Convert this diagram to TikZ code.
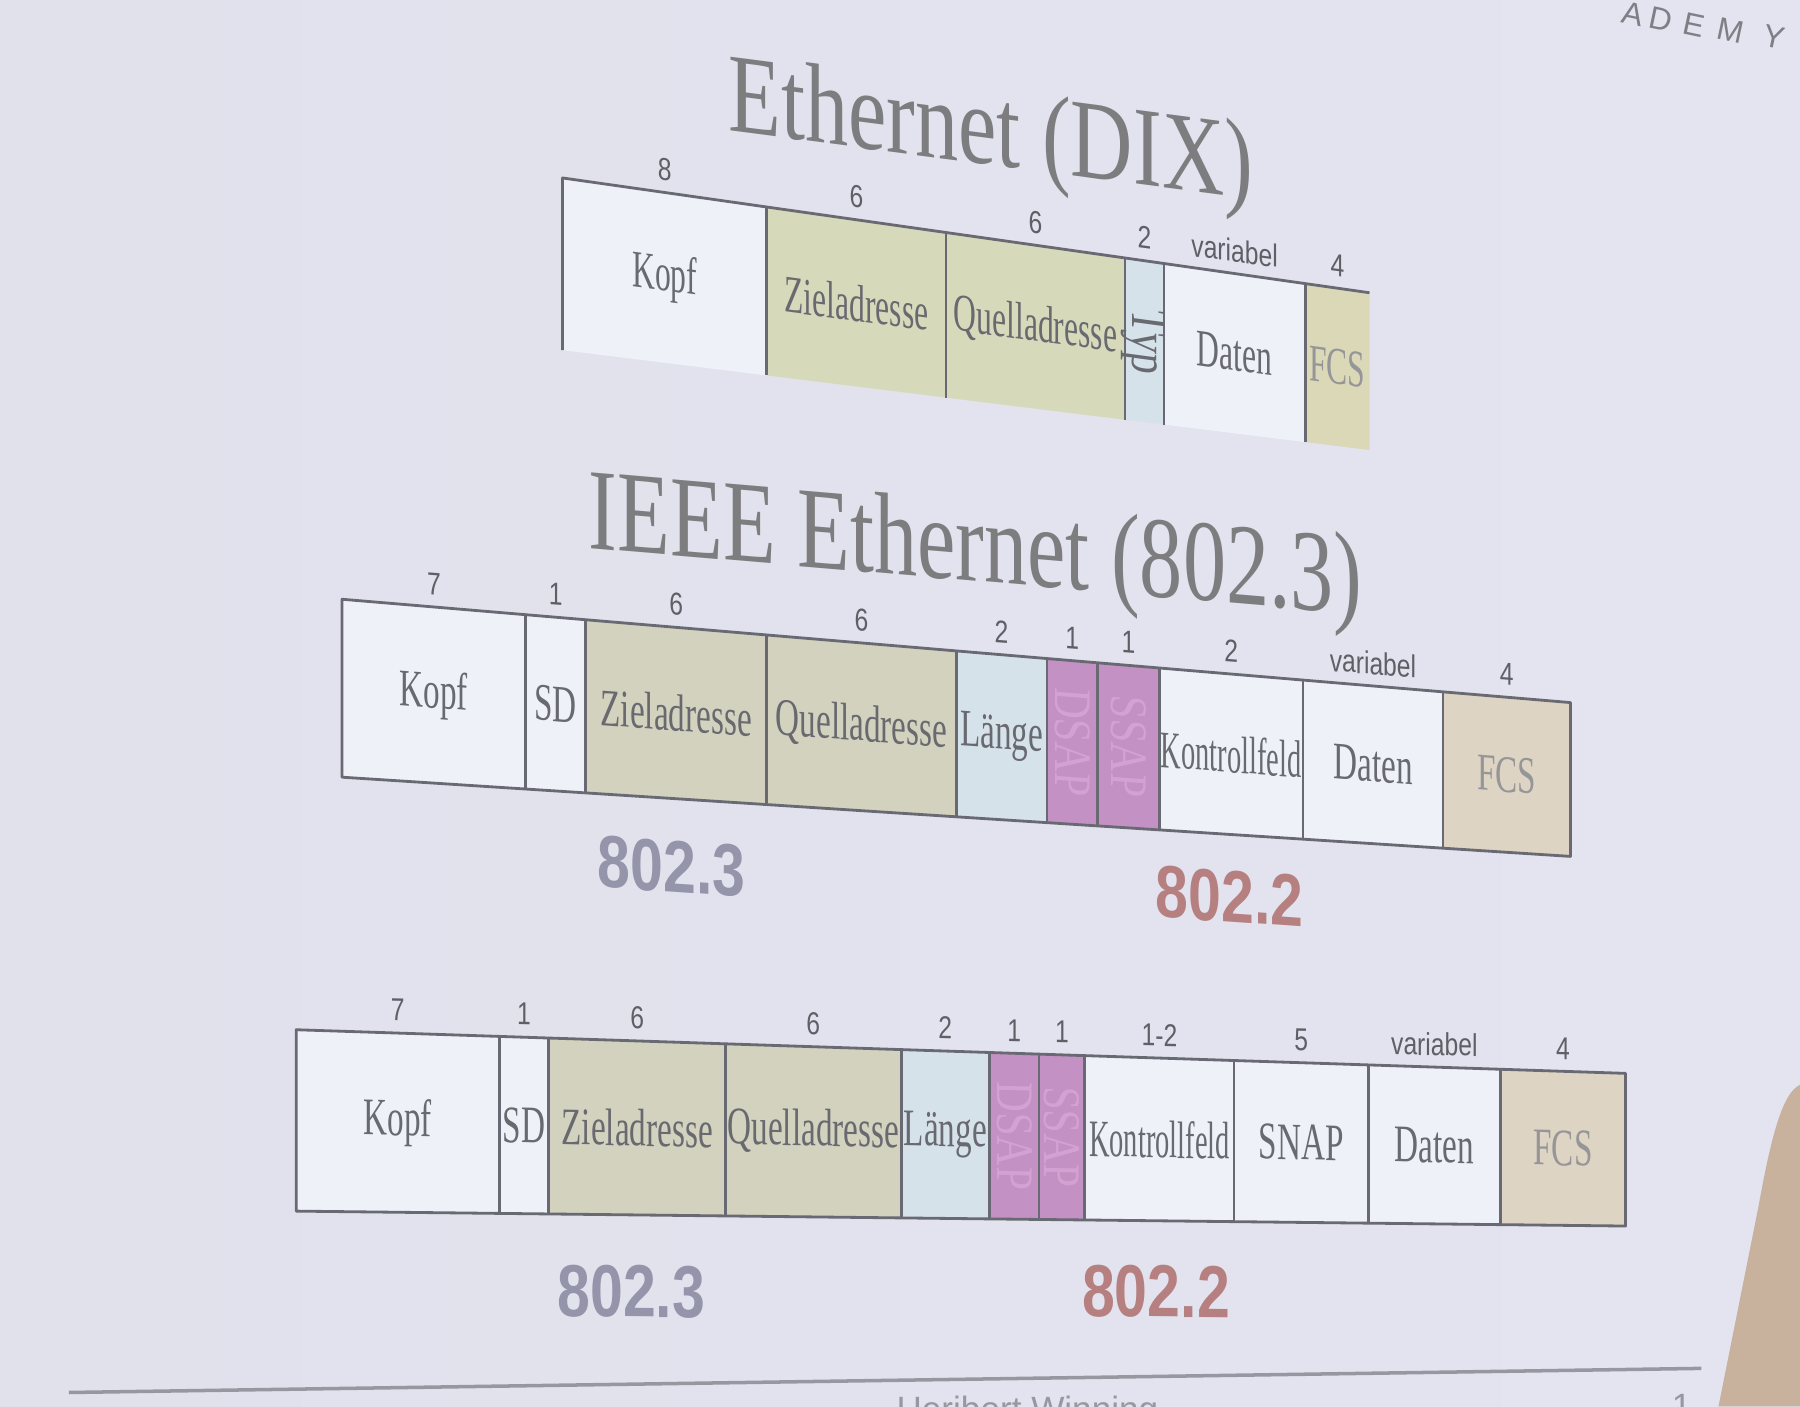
\documentclass[tikz,border=0pt]{standalone}
\usepackage{fontspec}
\usepackage{graphicx}
\setmainfont{Liberation Serif}
\newfontfamily\cellfont[FakeStretch=0.63]{Liberation Serif}
\newfontfamily\cellfontr[FakeStretch=0.6]{Liberation Serif}
\newfontfamily\cellfontn[FakeStretch=0.54]{Liberation Serif}
\newfontfamily\cellfontv[FakeStretch=0.8]{Liberation Serif}
\newfontfamily\numfont[FakeStretch=0.78]{Liberation Sans}
\newfontfamily\bigsans[FakeStretch=0.8]{Liberation Sans}
\newfontfamily\plainsans{Liberation Sans}
\newlength\pxu \setlength\pxu{0.1148mm}
\definecolor{bgL}{RGB}{225,225,236}
\definecolor{bgM}{RGB}{220,231,241}
\definecolor{bgR}{RGB}{227,228,240}
\definecolor{cellwhite}{RGB}{238,242,248}
\definecolor{addrA}{RGB}{214,218,186}
\definecolor{addrB}{RGB}{210,210,190}
\definecolor{typc}{RGB}{214,226,234}
\definecolor{sapc}{RGB}{196,145,196}
\definecolor{fcsA}{RGB}{218,216,182}
\definecolor{fcsB}{RGB}{222,212,196}
\definecolor{linecol}{RGB}{105,105,115}
\definecolor{labcol}{RGB}{105,105,112}
\definecolor{fcstext}{RGB}{150,150,152}
\definecolor{saptext}{RGB}{212,162,210}
\definecolor{numcol}{RGB}{95,95,102}
\definecolor{titlecol}{RGB}{125,125,128}
\definecolor{ieeeA}{RGB}{148,148,170}
\definecolor{ieeeB}{RGB}{182,128,128}
\definecolor{footcol}{RGB}{150,152,160}
\definecolor{skin}{RGB}{200,178,158}
\newcommand\rowgeom[6]{\def\rXa{#1}\def\rXb{#2}\def\rTa{#3}\def\rTb{#4}\def\rBa{#5}\def\rBb{#6}}
\newcommand\topat[2]{\pgfmathsetmacro#1{\rTa+((#2-\rXa)/(\rXb-\rXa))*(\rTb-\rTa)}}
\newcommand\botat[2]{\pgfmathsetmacro#1{\rBa+((#2-\rXa)/(\rXb-\rXa))*(\rBb-\rBa)}}
\newcommand\fcell[7]{%
 \topat\qTL{#2}\topat\qTR{#3}\botat\qBL{#2}\botat\qBR{#3}%
 \pgfmathsetmacro\qXM{(#2+#3)/2}%
 \pgfmathsetmacro\qYM{(\qTL+\qTR+\qBL+\qBR)/4}%
 \pgfmathsetmacro\qYN{(\qTL+\qTR)/2-20}%
 \fill[#4] (#2,\qTL) -- (#3,\qTR) -- (#3,\qBR) -- (#2,\qBL) -- cycle;
 \node[lab,#7] (#1) at (\qXM,\qYM) {#6};
 \node[num] (#1n) at (\qXM,\qYN) {#5};}
\newcommand\sepat[1]{\topat\qT{#1}\botat\qB{#1}\draw[frame] (#1,\qT) -- (#1,\qB);}
\def\rowfont{\cellfont}
\tikzset{
 lab/.style={font=\rowfont\fontsize{15}{15}\selectfont, text=labcol, inner sep=0pt, yslant=\Sl},
 narrowlab/.style={font=\cellfontn\fontsize{15}{15}\selectfont},
 vert/.style={font=\cellfontv\fontsize{15}{15}\selectfont, rotate=-90},
 fcslab/.style={text=fcstext},
 saplab/.style={vert, text=saptext},
 num/.style={font=\numfont\fontsize{9}{9}\selectfont, text=numcol, inner sep=0pt, yslant=\Sl},
 frame/.style={draw=linecol, line width=0.8pt, line join=round},
 titlestyle/.style={text=titlecol, inner sep=0pt},
 stdlab/.style={font=\bigsans\bfseries\fontsize{21}{21}\selectfont, inner sep=0pt},
 academy/.style={font=\plainsans\fontsize{9}{9}\selectfont, text=numcol!80, rotate=-12, inner sep=0pt},
}
\begin{document}
\begin{tikzpicture}[x=0.1148mm,y=-0.1148mm]
\useasboundingbox (0,0) rectangle (1568,1225);
\shade[left color=bgL, middle color=bgM, right color=bgR] (0,0) rectangle (1568,1225);

% ---------- Ethernet (DIX)
\node[titlestyle, yslant=-0.13] (t1) at (863,120)
  {\resizebox{457\pxu}{\height}{\fontsize{32}{32}\selectfont Ethernet (DIX)}};
\def\Sl{-0.135}
\def\rowfont{\cellfontr}
\rowgeom{490}{1193}{155}{255}{305}{392}
\fcell{aK}{490}{668}{cellwhite}{8}{Kopf}{}
\fcell{aZ}{668}{824}{addrA}{6}{Zieladresse}{}
\fcell{aQ}{824}{980}{addrA}{6}{Quelladresse}{}
\fcell{aT}{980}{1014}{typc}{2}{Typ}{vert}
\fcell{aD}{1014}{1137}{cellwhite}{variabel}{Daten}{}
\fcell{aF}{1137}{1193}{fcsA}{4}{FCS}{fcslab}
\draw[frame] (490,305) -- (490,155) -- (1193,255);
\sepat{668}\sepat{824}\sepat{980}\sepat{1014}\sepat{1137}

% ---------- IEEE Ethernet (802.3)
\node[titlestyle, yslant=-0.085] (t2) at (850,482)
  {\resizebox{674\pxu}{\height}{\fontsize{33}{33}\selectfont IEEE Ethernet (802.3)}};
\def\Sl{-0.075}
\def\rowfont{\cellfont}
\rowgeom{298}{1368}{522}{612}{677}{746}
\fcell{bK}{298}{458}{cellwhite}{7}{Kopf}{}
\fcell{bS}{458}{510}{cellwhite}{1}{SD}{}
\fcell{bZ}{510}{668}{addrB}{6}{Zieladresse}{}
\fcell{bQ}{668}{833}{addrB}{6}{Quelladresse}{}
\fcell{bL}{833}{912}{typc}{2}{Länge}{}
\fcell{bDS}{912}{956}{sapc}{1}{DSAP}{saplab}
\fcell{bSS}{956}{1010}{sapc}{1}{SSAP}{saplab}
\fcell{bC}{1010}{1135}{cellwhite}{2}{Kontrollfeld}{narrowlab}
\fcell{bD}{1135}{1257}{cellwhite}{variabel}{Daten}{}
\fcell{bF}{1257}{1368}{fcsB}{4}{FCS}{fcslab}
\draw[frame] (298,522) -- (1368,612) -- (1368,746) -- (298,677) -- cycle;
\sepat{458}\sepat{510}\sepat{668}\sepat{833}\sepat{912}\sepat{956}\sepat{1010}\sepat{1135}\sepat{1257}
\node[stdlab, text=ieeeA, yslant=-0.07] (b8023) at (585,755) {802.3};
\node[stdlab, text=ieeeB, yslant=-0.07] (b8022) at (1071,781) {802.2};

% ---------- IEEE 802.3 with SNAP
\def\Sl{-0.022}
\rowgeom{258}{1416}{897}{935}{1055}{1068}
\fcell{cK}{258}{435}{cellwhite}{7}{Kopf}{}
\fcell{cS}{435}{478}{cellwhite}{1}{SD}{}
\fcell{cZ}{478}{632}{addrB}{6}{Zieladresse}{}
\fcell{cQ}{632}{785}{addrB}{6}{Quelladresse}{}
\fcell{cL}{785}{862}{typc}{2}{Länge}{}
\fcell{cDS}{862}{905}{sapc}{1}{DSAP}{saplab}
\fcell{cSS}{905}{945}{sapc}{1}{SSAP}{saplab}
\fcell{cC}{945}{1075}{cellwhite}{1-2}{Kontrollfeld}{narrowlab}
\fcell{cN}{1075}{1192}{cellwhite}{5}{SNAP}{}
\fcell{cD}{1192}{1307}{cellwhite}{variabel}{Daten}{}
\fcell{cF}{1307}{1416}{fcsB}{4}{FCS}{fcslab}
\draw[frame] (258,897) -- (1416,935) -- (1416,1068) -- (258,1055) -- cycle;
\sepat{435}\sepat{478}\sepat{632}\sepat{785}\sepat{862}\sepat{905}\sepat{945}\sepat{1075}\sepat{1192}\sepat{1307}
\node[stdlab, text=ieeeA, yslant=-0.01] (c8023) at (550,1125) {802.3};
\node[stdlab, text=ieeeB, yslant=-0.01] (c8022) at (1007,1125) {802.2};

% ---------- slide frame remnants
\node[academy] (acA) at (1423,12) {A};
\node[academy] (acD) at (1447,17) {D};
\node[academy] (acE) at (1476,22) {E};
\node[academy] (acM) at (1508,27) {M};
\node[academy] (acY) at (1545,32) {Y};
\draw[footcol, line width=1pt] (60,1213) -- (1482,1192);
\node[font=\plainsans\fontsize{10}{10}\selectfont, text=footcol, anchor=base, inner sep=0pt] (foot) at (895,1238) {Heribert Winning};
\node[font=\plainsans\fontsize{10}{10}\selectfont, text=footcol, anchor=base, inner sep=0pt] (page) at (1465,1236) {1};
\fill[skin] (1568,945) .. controls (1552,952) and (1542,995) .. (1532,1050) -- (1497,1225) -- (1568,1225) -- cycle;
\end{tikzpicture}
\end{document}
